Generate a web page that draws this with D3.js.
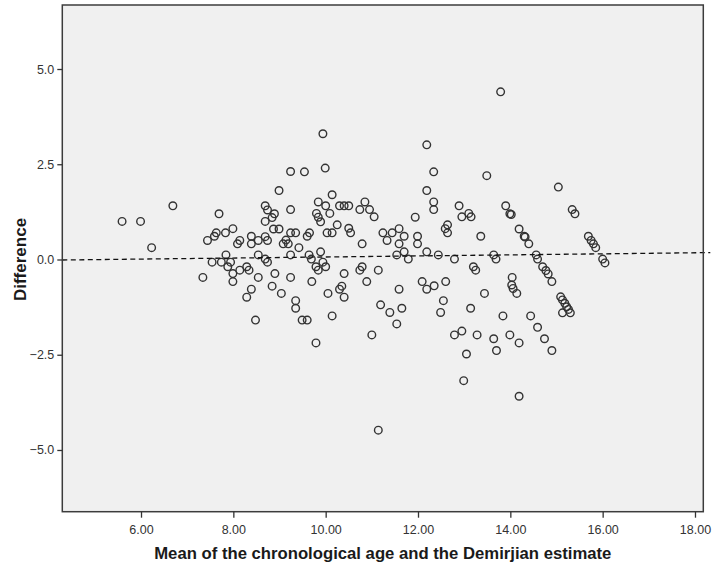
<!DOCTYPE html>
<html>
<head>
<meta charset="utf-8">
<script src="https://cdn.jsdelivr.net/npm/d3@7"></script>
<style>
  body { margin: 0; background: #fff; }
  text { font-family: Arial, "Liberation Sans", sans-serif; }
</style>
</head>
<body>
<script>
// chart data
var meanAge = [
  5.59,5.99,6.69,6.23,7.34,7.44,7.59,7.63,7.69,7.83,
  7.99,7.84,7.54,7.74,7.94,7.88,7.99,7.99,8.14,8.09,
  8.14,8.29,8.34,8.39,8.39,8.29,8.39,8.48,8.54,8.54,
  8.54,8.69,8.74,8.89,8.84,8.69,8.69,8.74,8.69,8.74,
  8.87,8.99,8.90,8.84,8.99,9.04,9.08,9.19,9.14,9.24,
  9.24,9.24,9.35,9.24,9.24,9.35,9.35,9.42,9.49,9.60,
  9.54,9.94,9.99,10.14,9.84,10.00,10.30,10.40,10.50,10.85,
  10.74,10.95,11.05,9.80,9.84,9.89,10.09,10.25,10.50,10.54,
  10.03,10.14,9.65,9.60,10.79,11.24,11.44,11.33,11.59,11.70,
  11.59,11.94,11.99,11.99,12.19,12.34,12.19,12.34,12.34,12.59,
  12.64,12.64,12.89,13.10,13.15,12.95,13.36,9.64,9.69,9.89,
  9.94,9.79,9.84,10.00,10.40,10.74,10.79,11.14,11.54,11.70,
  11.79,12.19,12.44,12.79,13.20,13.25,9.70,9.79,10.05,10.14,
  10.30,10.35,10.40,10.89,11.00,11.19,11.39,11.59,11.65,11.54,
  11.14,12.09,12.19,12.35,12.60,12.55,12.49,13.14,12.79,12.95,
  13.28,13.05,12.99,13.79,13.49,15.04,13.90,13.99,14.02,15.34,
  15.40,14.19,14.30,14.32,14.40,14.56,14.59,14.70,14.77,14.82,
  14.90,15.69,15.75,15.80,15.85,16.00,16.05,13.64,13.69,14.04,
  14.03,14.06,14.14,13.44,13.84,13.64,13.70,13.99,14.19,14.19,
  14.44,14.59,14.74,14.90,15.09,15.13,15.18,15.22,15.26,15.30,
  15.13
];
var difference = [
  1.00,1.00,1.41,0.31,-0.47,0.50,0.61,0.70,1.20,0.70,
  0.81,0.12,-0.07,-0.07,-0.07,-0.19,-0.37,-0.58,0.50,0.41,
  -0.28,-0.19,-0.28,0.61,0.41,-0.99,-0.78,-1.59,0.50,0.12,
  -0.47,1.41,1.30,1.20,1.10,1.00,0.60,0.50,0.01,-0.07,
  0.80,0.80,-0.37,-0.70,1.81,-0.89,0.41,0.41,0.51,2.31,
  1.31,0.70,0.70,0.12,-0.47,-1.08,-1.28,0.31,-1.59,-1.59,
  2.30,3.30,2.40,1.70,1.51,1.41,1.41,1.41,1.41,1.51,
  1.31,1.31,1.12,1.21,1.11,0.99,1.21,0.91,0.82,0.70,
  0.70,0.70,0.70,0.61,0.41,0.70,0.70,0.50,0.81,0.61,
  0.41,1.11,0.61,0.41,3.01,2.30,1.81,1.51,1.31,0.81,
  0.91,0.70,1.41,1.21,1.12,1.12,0.61,0.12,0.01,0.20,
  -0.07,-0.19,-0.28,-0.19,-0.37,-0.28,-0.19,-0.28,0.12,0.20,
  0.01,0.20,0.12,0.01,-0.19,-0.28,-0.58,-2.19,-0.89,-1.48,
  -0.78,-0.70,-0.99,-0.58,-1.98,-1.19,-1.39,-0.78,-1.28,-1.69,
  -4.48,-0.58,-0.78,-0.69,-0.58,-1.08,-1.39,-1.28,-1.98,-1.88,
  -1.98,-2.48,-3.18,4.40,2.20,1.90,1.41,1.20,1.18,1.31,
  1.20,0.80,0.61,0.59,0.41,0.12,0.01,-0.19,-0.29,-0.38,
  -0.58,0.61,0.50,0.41,0.31,0.01,-0.09,0.12,0.01,-0.47,
  -0.67,-0.76,-0.89,-0.89,-1.48,-2.08,-2.39,-1.98,-2.19,-3.59,
  -1.48,-1.78,-2.08,-2.39,-0.98,-1.06,-1.15,-1.24,-1.31,-1.40,
  -1.40
];
var xTicks = [6, 8, 10, 12, 14, 16, 18];
var yTicks = [-5, -2.5, 0, 2.5, 5];
// fitted line: [intercept, slope]
var fitLine = [-0.072, 0.0138];

var xTitle = "Mean of the chronological age and the Demirjian estimate";
var yTitle = "Difference";

// define window size
var width = 714,
    height = 570;
var margin = {top: 5, right: 10.7, bottom: 58.3, left: 62.3};

var svg = d3.select("body")
    .append("svg")
    .attr("width", width)
    .attr("height", height);

var x = d3.scaleLinear()
    .domain([4.295, 18.18])
    .range([margin.left, width - margin.right]);

var y = d3.scaleLinear()
    .domain([-6.62, 6.68])
    .range([height - margin.bottom, margin.top]);

// plot background
svg.append("rect")
    .attr("x", margin.left)
    .attr("y", margin.top)
    .attr("width", width - margin.left - margin.right)
    .attr("height", height - margin.top - margin.bottom)
    .attr("fill", "#f0f0f0");

// points
var points = meanAge.map(function(d, i){
    return {x: d, y: difference[i]};
});

svg.append("g")
    .selectAll("circle")
    .data(points)
    .enter()
    .append("circle")
    .attr("cx", function(d){ return x(d.x); })
    .attr("cy", function(d){ return y(d.y); })
    .attr("r", 3.8)
    .attr("fill", "none")
    .attr("stroke", "#333")
    .attr("stroke-width", 1.4);

// fit line (dashed), runs a little past the right frame like the original
var xd = x.domain();
var xEnd = x.invert(x(xd[1]) + 7);
svg.append("line")
    .attr("x1", x(xd[0]))
    .attr("y1", y(fitLine[0] + fitLine[1] * xd[0]))
    .attr("x2", x(xEnd))
    .attr("y2", y(fitLine[0] + fitLine[1] * xEnd))
    .attr("stroke", "#111")
    .attr("stroke-width", 1.3)
    .attr("stroke-dasharray", "5,3.5");

// frame
svg.append("rect")
    .attr("x", margin.left)
    .attr("y", margin.top)
    .attr("width", width - margin.left - margin.right)
    .attr("height", height - margin.top - margin.bottom)
    .attr("fill", "none")
    .attr("stroke", "#3c3c3c")
    .attr("stroke-width", 1.5);

// axes
var xAxis = d3.axisBottom(x)
    .tickValues(xTicks)
    .tickSize(6)
    .tickPadding(7)
    .tickFormat(d3.format(".2f"));

var yAxis = d3.axisLeft(y)
    .tickValues(yTicks)
    .tickSize(5)
    .tickPadding(3)
    .tickFormat(d3.format(".1f"));

var gx = svg.append("g")
    .attr("transform", "translate(0," + (height - margin.bottom) + ")")
    .call(xAxis);

var gy = svg.append("g")
    .attr("transform", "translate(" + margin.left + ",0)")
    .call(yAxis);

[gx, gy].forEach(function(g){
    g.select(".domain").remove();
    g.selectAll(".tick line").attr("stroke", "#333").attr("stroke-width", 1.3);
    g.selectAll(".tick text")
        .attr("fill", "#333")
        .style("font-size", "12.5px")
        .style("font-family", "Arial, 'Liberation Sans', sans-serif");
});

// axis titles
svg.append("text")
    .attr("x", (margin.left + width - margin.right) / 2)
    .attr("y", 559)
    .attr("text-anchor", "middle")
    .attr("fill", "#1a1a1a")
    .style("font-size", "16.7px")
    .style("font-weight", "bold")
    .text(xTitle);

svg.append("text")
    .attr("transform", "translate(26," + y(0) + ") rotate(-90)")
    .attr("text-anchor", "middle")
    .attr("fill", "#1a1a1a")
    .style("font-size", "17px")
    .style("font-weight", "bold")
    .text(yTitle);
</script>
</body>
</html>
